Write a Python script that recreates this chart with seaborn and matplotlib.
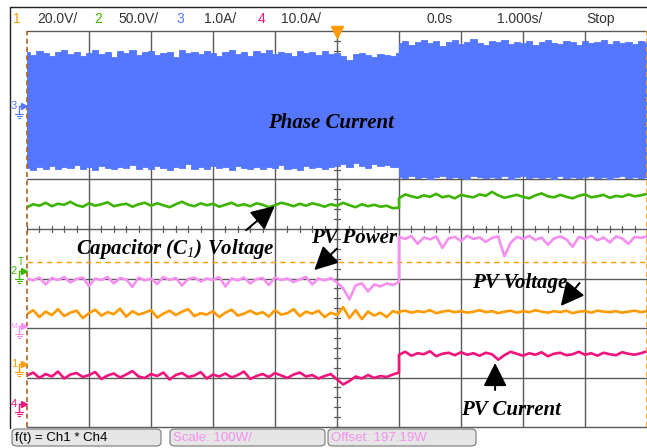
import numpy as np
import matplotlib
matplotlib.use("Agg")
import matplotlib.pyplot as plt
from matplotlib.patches import FancyBboxPatch
from matplotlib.lines import Line2D
import seaborn as sns

# ---- data (screen divisions) ----
# time base: 1 s/div, trigger at 0 s, step change at t = 1 s
t_before = np.linspace(-5.0, 1.0, 61)
t_after = np.linspace(1.0, 5.0, 41)

phase_top_before = [7.58, 7.52, 7.60, 7.55, 7.49, 7.57, 7.62, 7.54, 7.58, 7.50,
                    7.56, 7.61, 7.53, 7.57, 7.47, 7.59, 7.55, 7.62, 7.52, 7.57,
                    7.60, 7.51, 7.56, 7.58, 7.48, 7.61, 7.55, 7.57, 7.53, 7.60,
                    7.56, 7.50, 7.58, 7.62, 7.54, 7.57, 7.49, 7.59, 7.55, 7.61,
                    7.53, 7.58, 7.56, 7.50, 7.60, 7.55, 7.57, 7.52, 7.59, 7.54,
                    7.56, 7.50, 7.42, 7.53, 7.55, 7.51, 7.47, 7.54, 7.52, 7.49, 7.55]
phase_top_after = [7.76, 7.80, 7.72, 7.78, 7.82, 7.75, 7.79, 7.70, 7.77, 7.81,
                   7.74, 7.78, 7.83, 7.76, 7.72, 7.79, 7.77, 7.81, 7.73, 7.78,
                   7.75, 7.80, 7.71, 7.77, 7.82, 7.76, 7.74, 7.79, 7.78, 7.72,
                   7.80, 7.76, 7.77, 7.81, 7.74, 7.79, 7.75, 7.78, 7.73, 7.80, 7.77]
phase_bot_before = [5.24, 5.20, 5.26, 5.22, 5.28, 5.21, 5.25, 5.23, 5.30, 5.22,
                    5.25, 5.20, 5.27, 5.23, 5.21, 5.26, 5.24, 5.29, 5.22, 5.25,
                    5.21, 5.27, 5.23, 5.20, 5.26, 5.24, 5.31, 5.22, 5.25, 5.21,
                    5.27, 5.23, 5.25, 5.20, 5.28, 5.24, 5.22, 5.26, 5.21, 5.25,
                    5.23, 5.29, 5.22, 5.24, 5.20, 5.27, 5.23, 5.26, 5.21, 5.25,
                    5.27, 5.31, 5.25, 5.33, 5.28, 5.24, 5.32, 5.27, 5.30, 5.26, 5.25]
phase_bot_after = [5.05, 5.03, 5.07, 5.04, 5.06, 5.02, 5.05, 5.08, 5.03, 5.06,
                   5.04, 5.02, 5.07, 5.05, 5.03, 5.06, 5.04, 5.08, 5.02, 5.05,
                   5.07, 5.03, 5.06, 5.04, 5.05, 5.02, 5.07, 5.04, 5.06, 5.03,
                   5.05, 5.08, 5.04, 5.06, 5.02, 5.05, 5.07, 5.03, 5.06, 5.04, 5.05]

cap_before = [4.44, 4.50, 4.47, 4.53, 4.46, 4.51, 4.49, 4.55, 4.48, 4.45,
              4.52, 4.47, 4.50, 4.54, 4.46, 4.49, 4.51, 4.45, 4.50, 4.53,
              4.47, 4.52, 4.48, 4.44, 4.50, 4.55, 4.49, 4.46, 4.52, 4.48,
              4.51, 4.45, 4.49, 4.53, 4.47, 4.50, 4.46, 4.52, 4.49, 4.44,
              4.48, 4.53, 4.50, 4.46, 4.51, 4.47, 4.52, 4.49, 4.45, 4.50,
              4.47, 4.53, 4.48, 4.44, 4.50, 4.46, 4.49, 4.45, 4.47, 4.42, 4.43]
cap_after = [4.62, 4.70, 4.66, 4.63, 4.68, 4.65, 4.71, 4.64, 4.67, 4.62,
             4.69, 4.66, 4.64, 4.70, 4.67, 4.75, 4.68, 4.63, 4.66, 4.69,
             4.65, 4.62, 4.68, 4.72, 4.66, 4.64, 4.69, 4.65, 4.62, 4.67,
             4.70, 4.64, 4.66, 4.69, 4.63, 4.67, 4.65, 4.70, 4.66, 4.68, 4.71]

power_before = [3.00, 2.96, 3.02, 2.88, 3.01, 2.97, 3.03, 2.92, 2.99, 3.02,
                2.85, 3.00, 2.97, 3.03, 2.90, 3.01, 2.98, 2.83, 3.02, 2.96,
                3.00, 2.89, 3.03, 2.97, 3.01, 2.86, 2.99, 3.02, 2.94, 3.00,
                2.97, 3.03, 2.84, 3.00, 2.96, 3.02, 2.90, 2.99, 3.01, 2.87,
                3.02, 2.97, 3.00, 2.93, 2.98, 3.03, 2.88, 3.00, 2.96, 3.01,
                2.92, 2.80, 2.58, 2.86, 2.90, 2.74, 2.88, 2.84, 2.90, 2.87, 2.93]
power_after = [3.84, 3.80, 3.86, 3.70, 3.83, 3.79, 3.85, 3.62, 3.81, 3.84,
               3.76, 3.86, 3.80, 3.83, 3.74, 3.82, 3.85, 3.45, 3.72, 3.84,
               3.80, 3.86, 3.78, 3.83, 3.68, 3.81, 3.85, 3.79, 3.64, 3.84,
               3.80, 3.86, 3.77, 3.83, 3.73, 3.85, 3.81, 3.70, 3.84, 3.82, 3.85]

volt_before = [2.28, 2.36, 2.22, 2.33, 2.26, 2.38, 2.24, 2.31, 2.35, 2.20,
               2.30, 2.37, 2.25, 2.32, 2.28, 2.39, 2.23, 2.34, 2.27, 2.31,
               2.36, 2.21, 2.29, 2.35, 2.26, 2.33, 2.38, 2.24, 2.30, 2.27,
               2.34, 2.22, 2.31, 2.37, 2.25, 2.29, 2.35, 2.28, 2.32, 2.23,
               2.36, 2.27, 2.30, 2.38, 2.24, 2.33, 2.29, 2.35, 2.22, 2.31,
               2.26, 2.42, 2.20, 2.36, 2.18, 2.33, 2.25, 2.31, 2.22, 2.34, 2.30]
volt_after = [2.33, 2.35, 2.31, 2.34, 2.32, 2.36, 2.30, 2.33, 2.35, 2.32,
              2.34, 2.31, 2.33, 2.36, 2.32, 2.34, 2.30, 2.33, 2.35, 2.31,
              2.34, 2.32, 2.36, 2.33, 2.31, 2.34, 2.32, 2.35, 2.30, 2.33,
              2.34, 2.31, 2.35, 2.33, 2.32, 2.34, 2.31, 2.33, 2.35, 2.32, 2.34]

curr_before = [1.04, 1.10, 0.99, 1.07, 1.02, 1.12, 0.98, 1.06, 1.09, 1.01,
               1.05, 1.11, 0.97, 1.04, 1.08, 1.00, 1.06, 1.13, 1.02, 0.99,
               1.07, 1.03, 1.10, 0.96, 1.05, 1.09, 1.01, 1.04, 1.11, 0.98,
               1.06, 1.02, 1.08, 1.00, 1.05, 1.12, 0.97, 1.03, 1.07, 1.01,
               1.09, 1.04, 0.99, 1.06, 1.10, 1.02, 1.05, 0.98, 1.03, 1.07,
               0.96, 0.86, 0.93, 1.02, 0.98, 1.05, 0.99, 1.03, 1.01, 1.06, 1.10]
curr_after = [1.46, 1.52, 1.44, 1.49, 1.47, 1.53, 1.43, 1.48, 1.50, 1.45,
              1.51, 1.46, 1.49, 1.44, 1.50, 1.47, 1.36, 1.45, 1.52, 1.48,
              1.44, 1.49, 1.46, 1.51, 1.43, 1.48, 1.50, 1.45, 1.47, 1.52,
              1.46, 1.49, 1.44, 1.50, 1.47, 1.45, 1.51, 1.48, 1.46, 1.49, 1.53]

trigger_level = 3.33

channel_labels = ["1", "2", "3", "4"]
channel_scales = ["20.0V/", "50.0V/", "1.0A/", "10.0A/"]
time_labels = ["0.0s", "1.000s/", "Stop"]
math_labels = ["f(t) = Ch1 * Ch4", "Scale: 100W/", "Offset: 197.19W"]

C_ORANGE = "#ff9a00"
C_GREEN = "#3cb400"
C_BLUE = "#5577ff"
C_MAGENTA = "#f0147c"
C_VIOLET = "#f590f0"
GRID = "#5a5a5a"

W, H = 647, 448

sns.set_theme(style="white")
plt.rcParams["font.family"] = ["Liberation Sans", "DejaVu Sans"]
plt.rcParams["mathtext.fontset"] = "custom"
plt.rcParams["mathtext.rm"] = "Liberation Serif:italic"

fig = plt.figure(figsize=(W / 100, H / 100), dpi=100)
fig.patch.set_facecolor("white")


def fx(px):
    return px / W


def fy(py):
    return 1 - py / H


ax = fig.add_axes([fx(27), fy(427), 620 / W, 396 / H])
ax.set_xlim(-5, 5)
ax.set_ylim(0, 8)
ax.tick_params(length=0, labelbottom=False, labelleft=False)
ax.set_xticks([])
ax.set_yticks([])
for s in ["top", "bottom"]:
    ax.spines[s].set_color(GRID)
    ax.spines[s].set_linewidth(1)
for s in ["left", "right"]:
    ax.spines[s].set_visible(False)

# graticule, kept under the traces
for xg in np.arange(-4, 5, 1):
    ax.axvline(xg, color=GRID, lw=1, zorder=1)
for yg in np.arange(1, 8, 1):
    ax.axhline(yg, color=GRID, lw=1, zorder=1)

# crosshair ticks on the centre lines
for xm in np.arange(-5, 5.01, 0.2):
    ax.plot([xm, xm], [3.94, 4.06], color=GRID, lw=0.9, zorder=1)
for ym in np.arange(0, 8.01, 0.2):
    ax.plot([-0.05, 0.05], [ym, ym], color=GRID, lw=0.9, zorder=1)

# phase current band
ax.fill_between(np.concatenate([t_before, t_after]),
                np.concatenate([phase_bot_before, phase_bot_after]),
                np.concatenate([phase_top_before, phase_top_after]),
                color=C_BLUE, step="mid", lw=0.6, ec=C_BLUE, zorder=3)

# trigger level
ax.axhline(trigger_level, color=C_ORANGE, lw=1, ls=(0, (4, 3)), zorder=2)

tt = np.concatenate([t_before, t_after])
traces = [
    (cap_before + cap_after, C_GREEN),
    (power_before + power_after, C_VIOLET),
    (volt_before + volt_after, C_ORANGE),
    (curr_before + curr_after, C_MAGENTA),
]
for vals, col in traces:
    sns.lineplot(x=tt, y=vals, ax=ax, color=col, lw=1.9, sort=False,
                 estimator=None, zorder=4)

# edges of the record
ax.axvline(-5, color="#b5601a", lw=1.2, ls=(0, (3, 2)), clip_on=False, zorder=5)
ax.axvline(5, color=C_ORANGE, lw=1.2, ls=(0, (3, 2)), clip_on=False, zorder=5)
ax.plot([0], [7.97], marker="v", ms=8, color=C_ORANGE, clip_on=False, zorder=6)

# annotations
tfont = dict(family="Liberation Serif", weight="bold", style="italic",
             size=15, color="black")
arrow = dict(arrowstyle="-|>,head_length=0.8,head_width=0.4",
             color="black", lw=1.4, mutation_scale=18)
ax.text(-0.1, 6.14, "Phase Current", ha="center", va="center", zorder=7, **tfont)
ax.annotate("", xy=(-0.97, 4.50), xytext=(-1.5, 3.94), arrowprops=arrow, zorder=7)
ax.text(-2.6, 3.6, "Capacitor (C$_1$) Voltage", ha="center", va="center",
        zorder=7, **tfont)
ax.annotate("", xy=(-0.4, 3.13), xytext=(0.03, 3.64), arrowprops=arrow, zorder=7)
ax.text(0.27, 3.82, "PV Power", ha="center", va="center", zorder=7, **tfont)
ax.annotate("", xy=(3.58, 2.40), xytext=(3.94, 2.95), arrowprops=arrow, zorder=7)
ax.text(2.94, 2.91, "PV Voltage", ha="center", va="center", zorder=7, **tfont)
ax.annotate("", xy=(2.55, 1.35), xytext=(2.55, 0.69), arrowprops=arrow, zorder=7)
ax.text(2.8, 0.34, "PV Current", ha="center", va="center", zorder=7, **tfont)

# frame of the scope screen
fig.add_artist(Line2D([fx(10), fx(647)], [fy(7), fy(7)], color="#222", lw=1))
fig.add_artist(Line2D([fx(10), fx(10)], [fy(7), fy(428)], color="#222", lw=1))

# top status bar
ch_colors = [C_ORANGE, C_GREEN, C_BLUE, C_MAGENTA]
num_x = [17, 98, 180, 262]
scale_x = [37, 118, 204, 281]
for lab, sc, col, nx, sx in zip(channel_labels, channel_scales, ch_colors, num_x, scale_x):
    fig.text(fx(nx), fy(19), lab, color=col, ha="center", va="center", size=10)
    fig.text(fx(sx), fy(19), sc, color="#333", ha="left", va="center", size=10)
for lab, px in zip(time_labels, [440, 520, 601]):
    fig.text(fx(px), fy(19), lab, color="#333", ha="center", va="center", size=10)

# channel ground markers on the left
markers = [("3", 106, C_BLUE), ("2", 271, C_GREEN), ("M", 326, C_VIOLET),
           ("1", 364, C_ORANGE), ("4", 404, C_MAGENTA)]
for lab, py, col in markers:
    fig.text(fx(14), fy(py), lab, color=col, ha="center", va="center",
             size=8 if lab != "M" else 6)
    fig.add_artist(Line2D([fx(19), fx(19)], [fy(py), fy(py + 8)], color=col, lw=1))
    fig.add_artist(Line2D([fx(19), fx(23)], [fy(py), fy(py)], color=col, lw=1))
    fig.add_artist(Line2D([fx(24)], [fy(py)], marker=">", ms=4, color=col, lw=0))
    for dy, hw in [(8, 4), (10, 2.5), (12, 1)]:
        fig.add_artist(Line2D([fx(19 - hw), fx(19 + hw)], [fy(py + dy), fy(py + dy)],
                              color=col, lw=0.8))
fig.text(fx(21), fy(262), "T", color=C_GREEN, ha="center", va="center", size=7)

# bottom math bar
boxes = [(10, 163, "black"), (168, 327, C_VIOLET), (326, 478, C_VIOLET)]
for (x0, x1, col), lab in zip(boxes, math_labels):
    fig.add_artist(FancyBboxPatch((fx(x0 + 2), fy(446)), fx(x1 - x0 - 4), 17 / H,
                                  boxstyle="round,pad=0,rounding_size=0.008",
                                  transform=fig.transFigure, fc="#e6e6e6",
                                  ec="#777", lw=0.8))
    fig.text(fx(x0 + 5), fy(437.5), lab, color=col, ha="left", va="center", size=9.5)

fig.savefig("out.png", dpi=100)
